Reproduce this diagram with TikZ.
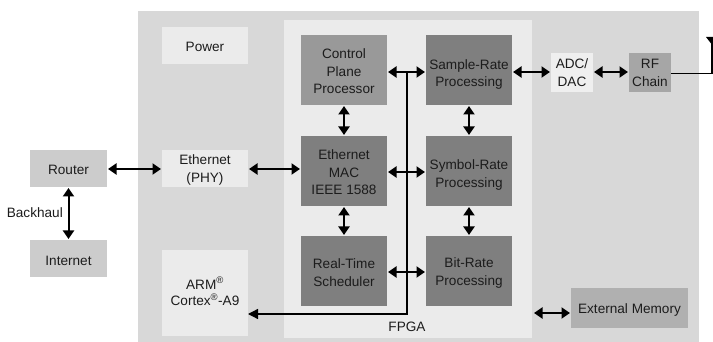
\documentclass[tikz,border=0pt]{standalone}
\usepackage{fontspec}
\setmainfont{Liberation Sans}
\usetikzlibrary{arrows.meta}
\definecolor{outer}{HTML}{D8D8D8}
\definecolor{lite}{HTML}{EBEBEB}
\definecolor{adcfill}{HTML}{EFEFEF}
\definecolor{ext}{HTML}{CCCCCC}
\definecolor{ctrl}{HTML}{999999}
\definecolor{dark}{HTML}{7F7F7F}
\definecolor{rf}{HTML}{A6A6A6}
\definecolor{memf}{HTML}{B0B0B0}
\definecolor{ink}{HTML}{1C1C1C}
\tikzset{
  x=1pt,y=-1pt,
  box/.style={inner sep=0pt,outer sep=0pt},
  tl/.style={inner sep=0pt,align=center,font=\fontsize{13.6}{17.5}\selectfont,text=ink,yshift=-2pt},
  bi/.style={draw=black,line width=2pt,{Triangle[width=11pt,length=8.5pt]}-{Triangle[width=11pt,length=8.5pt]},shorten >=1pt,shorten <=1pt},
  wire/.style={draw=black,line width=1.3pt},
}
\begin{document}
\begin{tikzpicture}
\useasboundingbox (0,0) rectangle (713,342);
\fill[white] (0,0) rectangle (713,342);
\node[box,fill=outer,minimum width=561pt,minimum height=331pt,anchor=north west] (soc) at (138,11) {};
\node[box,fill=lite,minimum width=248pt,minimum height=318pt,anchor=north west] (fpga) at (284,20) {};
\node[tl,yshift=3pt] (fpgal) at (407,328) {FPGA};
\node[box,fill=lite,minimum width=86pt,minimum height=37pt,label={[tl,yshift=1pt]center:Power}] (power) at (205,45.5) {};
\node[box,fill=lite,minimum width=86pt,minimum height=37pt,label={[tl,yshift=0.5pt]center:{Ethernet\\(PHY)}}] (phy) at (205,168.5) {};
\node[box,fill=lite,minimum width=86pt,minimum height=86pt,label={[tl,yshift=3.5pt,font=\fontsize{13.6}{16.5}\selectfont]center:{ARM\textsuperscript{\textregistered}\\Cortex\textsuperscript{\textregistered}-A9}}] (arm) at (205,293) {};
\node[box,fill=ext,minimum width=77pt,minimum height=37pt,label={[tl,yshift=1pt]center:Router}] (router) at (68.5,168.5) {};
\node[box,fill=ext,minimum width=77pt,minimum height=37pt,label={[tl]center:Internet}] (internet) at (68.5,258.5) {};
\node[tl,anchor=east,yshift=2pt] (backhaul) at (63,213) {Backhaul};
\node[box,fill=ctrl,minimum width=86pt,minimum height=70pt,label={[tl,yshift=0.5pt]center:{Control\\Plane\\Processor}}] (ctrl) at (344,70) {};
\node[box,fill=dark,minimum width=86pt,minimum height=70pt,label={[tl,yshift=-2.5pt]center:{Sample-Rate\\Processing}}] (sample) at (469,70) {};
\node[box,fill=dark,minimum width=86pt,minimum height=70pt,label={[tl,yshift=0.5pt]center:{Ethernet\\MAC\\IEEE 1588}}] (mac) at (344,171) {};
\node[box,fill=dark,minimum width=86pt,minimum height=70pt,label={[tl,yshift=-2pt]center:{Symbol-Rate\\Processing}}] (symbol) at (469,171) {};
\node[box,fill=dark,minimum width=86pt,minimum height=70pt,label={[tl,yshift=0.5pt]center:{Real-Time\\Scheduler}}] (sched) at (344,271) {};
\node[box,fill=dark,minimum width=86pt,minimum height=70pt,label={[tl]center:{Bit-Rate\\Processing}}] (bit) at (469,271) {};
\node[box,fill=adcfill,minimum width=42pt,minimum height=39pt,label={[tl,yshift=1.5pt]center:{ADC/\\DAC}}] (adc) at (572,72.2) {};
\node[box,fill=rf,minimum width=42pt,minimum height=39pt,label={[tl,yshift=1.5pt]center:{RF\\Chain}}] (rfc) at (650,72.2) {};
\node[box,fill=memf,minimum width=117pt,minimum height=40pt,label={[tl,yshift=0pt]center:External Memory}] (mem) at (629.5,308) {};
\coordinate (memw) at (533,313);
\coordinate (ant) at (712,37);
\coordinate (bus) at (407,72);
\coordinate (rowa) at (0,72);
\coordinate (rowe) at (0,169);
\coordinate (rowm) at (0,172);
\coordinate (rows) at (0,272);
\coordinate (rowb) at (0,314);
\coordinate (rowr) at (0,73.5);
\draw[bi] (router.east |- rowe) -- (phy.west |- rowe);
\draw[bi] (router) -- (internet);
\draw[bi] (phy.east |- rowe) -- (mac.west |- rowe);
\draw[bi] (ctrl.east |- rowa) -- (sample.west |- rowa);
\draw[bi] (ctrl) -- (mac);
\draw[bi] (mac) -- (sched);
\draw[bi] (mac.east |- rowm) -- (symbol.west |- rowm);
\draw[bi] (sched.east |- rows) -- (bit.west |- rows);
\draw[bi] (sample) -- (symbol);
\draw[bi] (symbol) -- (bit);
\draw[bi] (sample.east |- rowa) -- (adc.west |- rowa);
\draw[bi] (adc.east |- rowa) -- (rfc.west |- rowa);
\draw[bi] (memw) -- (mem.west |- memw);
\draw[wire,-{Triangle[width=10pt,length=10pt]}] (bus) -- (bus |- rowb) -- (arm.east |- rowb);
\draw[wire] (rfc.east |- rowr) -- (ant |- rowr) -- (ant);
\fill[black] (706,37) -- (713,37) -- (713,46) -- cycle;
\end{tikzpicture}
\end{document}
